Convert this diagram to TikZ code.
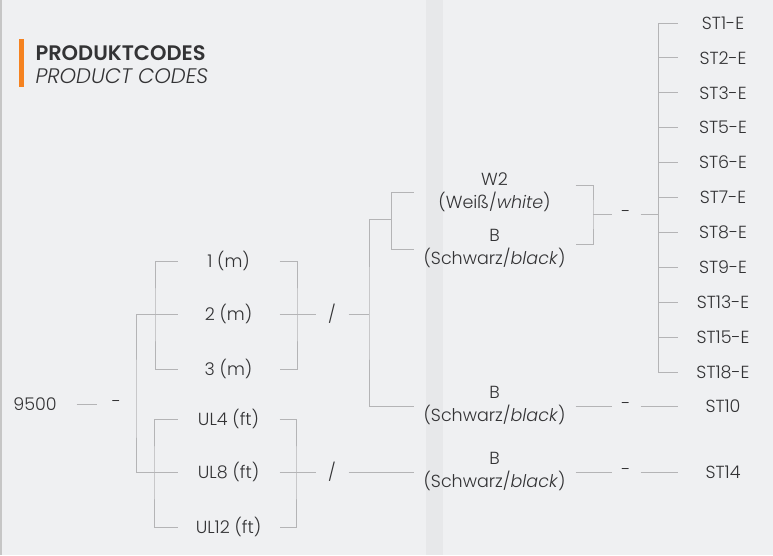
\documentclass[tikz,border=0pt]{standalone}
\usepackage{fontspec}
\setmainfont{Poppins}[UprightFont=* Light,ItalicFont=* Light Italic,BoldFont=* SemiBold,BoldItalicFont=* SemiBold Italic]
\usetikzlibrary{positioning}
\definecolor{bg}{HTML}{EFF0F2}
\definecolor{band}{HTML}{E7E8EA}
\definecolor{wire}{HTML}{B4B4B6}
\definecolor{ink}{HTML}{333335}
\definecolor{accent}{HTML}{F58220}

\begin{document}
\begin{tikzpicture}[x=1pt,y=-1pt,wire,line width=1pt,
  every node/.style={inner sep=0pt,text=ink,font=\fontsize{17.5}{23}\selectfont},
  len/.style={minimum width=101pt},
  col/.style={minimum width=161pt,align=center},
  code/.style={minimum width=90pt},
  sep/.style={minimum width=#1pt}]
  % background
  \fill[bg] (0,0) rectangle (773,555);
  \fill[band] (426,0) rectangle (443,555);
  \fill[gray!45] (0,0) rectangle (1.5,555);
  \useasboundingbox (0,0) rectangle (773,555);
  % title
  \fill[accent] (19,39) rectangle (24,87);
  \node[anchor=west,font=\fontsize{21}{23}\selectfont\bfseries] (title) at (35,53) {PRODUKTCODES};
  \node[anchor=west,font=\fontsize{21}{23}\selectfont\itshape] (subtitle) at (35,76) {PRODUCT CODES};

  % base and length
  \node[minimum width=82pt] (base) at (35,404) {9500};
  \node[sep=39] (d0) at (116.5,404) {-};
  \node[len] (m1) at (228.5,261) {1 (m)};
  \node[len] (m2) at (228.5,314) {2 (m)};
  \node[len] (m3) at (228.5,369) {3 (m)};
  \node[len] (f1) at (228.5,419) {UL4 (ft)};
  \node[len] (f2) at (228.5,472) {UL8 (ft)};
  \node[len] (f3) at (228.5,527) {UL12 (ft)};
  \node[sep=32] (s1) at (332,314) {/};
  \node[sep=32] (s2) at (332,472) {/};

  % colours
  \node[col] (white) at (494.5,192) {W2\\(Weiß/\textit{white})};
  \node[col] (black) at (494.5,249) {B\\(Schwarz/\textit{black})};
  \node[col] (black2) at (494.5,406) {B\\(Schwarz/\textit{black})};
  \node[col] (black3) at (494.5,472) {B\\(Schwarz/\textit{black})};
  \node[sep=28] (d1) at (626,214) {-};
  \node[sep=28] (d2) at (626,406) {-};
  \node[sep=28] (d3) at (626,472) {-};

  % end codes
  \foreach \c [count=\i from 0] in {ST1-E,ST2-E,ST3-E,ST5-E,ST6-E,ST7-E,ST8-E,ST9-E,ST13-E,ST15-E,ST18-E}
    \node[code] (e\i) at (723,23+34.9*\i) {\c};
  \node[code] (st10) at (723,406) {ST10};
  \node[code] (st14) at (723,472) {ST14};

  % junctions
  \coordinate (j0) at (136,404);
  \coordinate (jm) at (155,314);
  \coordinate (jf) at (154,472);
  \coordinate (km) at (297,314);
  \coordinate (kf) at (296,472);
  \coordinate (j1) at (369,314);
  \coordinate (j2) at (391,219);
  \coordinate (k2) at (593,214);
  \coordinate (j3) at (658,214);

  % connectors
  \draw (base) -- (d0);
  \draw (m2.west) -| (j0) |- (f2.west);
  \draw (m1.west) -| (jm) |- (m3.west);
  \draw (f1.west) -| (jf) |- (f3.west);
  \draw (m1.east) -| (km) |- (m3.east);
  \draw (f1.east) -| (kf) |- (f3.east);
  \draw (m2.east) -- (s1.west);
  \draw (f2.east) -- (s2.west);
  \draw (s1.east) -- (j1);
  \draw (j1 |- j2) -- (j1) |- (black2.west);
  \draw (j1 |- j2) -- (j2);
  \draw (white.west -| j2) -- (white.west);
  \draw (white.west -| j2) -- (black.west -| j2) -- (black.west);
  \draw (s2.east) -- (black3.west);
  \draw ([yshift=7pt]white.east) -| (k2) |- ([yshift=5pt]black.east);
  \draw (k2 |- d1) -- (d1.west);
  \draw (d1.east) -- (j3);
  \draw (e0.west -| j3) -- (e10.west -| j3);
  \foreach \i in {0,...,10}
    \draw (e\i.west -| j3) -- (e\i.west);
  \draw (black2.east) -- (d2.west);
  \draw (d2.east) -- (st10.west);
  \draw (black3.east) -- (d3.west);
  \draw (d3.east) -- (st14.west);
\end{tikzpicture}
\end{document}
